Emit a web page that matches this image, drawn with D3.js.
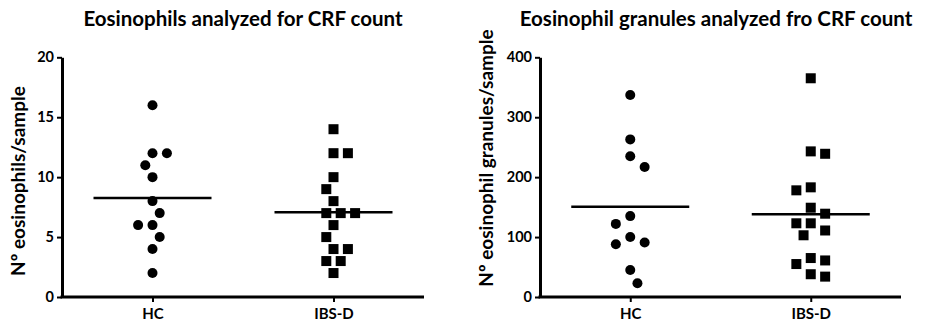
<!DOCTYPE html>
<html>
<head>
<meta charset="utf-8">
<script src="https://cdn.jsdelivr.net/npm/d3@7"></script>
<style>
    body { margin: 0; background: #fff; }
    text { font-family: Lato, "Open Sans", sans-serif; font-weight: 700; fill: #000; }
</style>
</head>
<body>
<div id="chart"></div>
<script>
// groups on the x axis
const groups = ["HC", "IBS-D"];

// eosinophils per sample
const eosHC = [16, 12, 12, 11, 10, 8, 7, 6, 6, 5, 4, 2];
const eosIBSD = [14, 12, 12, 10, 9, 8, 7, 7, 7, 6, 5, 4, 4, 3, 3, 2];

// eosinophil granules per sample
const granHC = [337, 263, 235, 217, 135, 122, 100, 91, 88, 45, 23];
const granIBSD = [365, 243, 239, 183, 178, 149, 139, 123, 123, 111, 103, 65, 61, 55, 38, 34];

const eosTicks = [0, 5, 10, 15, 20];
const granTicks = [0, 100, 200, 300, 400];

const titles = ["Eosinophils analyzed for CRF count", "Eosinophil granules analyzed fro CRF count"];
const yLabels = ["N\u00ba eosinophils/sample", "N\u00ba eosinophil granules/sample"];

const width = 925, height = 326;

const svg = d3.select("#chart").append("svg")
    .attr("width", width)
    .attr("height", height);

const panels = [
    {left: 62, right: 424, max: 20, ticks: eosTicks, series: [eosHC, eosIBSD], title: titles[0], ylab: yLabels[0], titleX: 243, labX: 25, labY: 181},
    {left: 540, right: 901, max: 400, ticks: granTicks, series: [granHC, granIBSD], title: titles[1], ylab: yLabels[1], titleX: 716, labX: 493, labY: 158}
];

const yTop = 57.3, yBottom = 297;
const symbol = 10;     // marker size
const step = 7.2;      // horizontal spread step
const minDist = 13.9;  // collision distance for the swarm

// simple greedy beeswarm, keeps the two sides balanced
function swarm(values, y) {
    let placed = [];
    let balance = 0;
    let sorted = values.slice().sort((a, b) => b - a);
    sorted.forEach(v => {
        let py = y(v);
        let ok = k => placed.every(p => Math.hypot(p.k * step - k * step, p.y - py) >= minDist);
        let k = 0;
        if (!ok(0)) {
            for (let n = 1; n < 10; n++) {
                let first = balance > 0 ? -n : n;
                if (ok(first)) { k = first; break; }
                if (ok(-first)) { k = -first; break; }
            }
        }
        balance += Math.sign(k);
        placed.push({v: v, y: py, k: k});
    });
    return placed;
}

panels.forEach(p => {
    let g = svg.append("g");

    let x = d3.scalePoint()
        .domain(groups)
        .range([p.left, p.right])
        .padding(0.5);

    let y = d3.scaleLinear()
        .domain([0, p.max])
        .range([yBottom, yTop]);

    // axes
    let yAxis = g.append("g")
        .attr("transform", "translate(" + p.left + ",0)")
        .call(d3.axisLeft(y).tickValues(p.ticks).tickSize(5).tickSizeOuter(0).tickPadding(3));

    let xAxis = g.append("g")
        .attr("transform", "translate(0," + yBottom + ")")
        .call(d3.axisBottom(x).tickSize(5).tickSizeOuter(0).tickPadding(6));

    [xAxis, yAxis].forEach(a => {
        a.select(".domain").attr("stroke", "#000").attr("stroke-width", 3);
        a.selectAll(".tick line").attr("stroke", "#000").attr("stroke-width", 2);
        a.selectAll(".tick text").style("font-size", "14.5px").attr("fill", "#000");
    });
    xAxis.select(".domain").attr("d", "M" + (p.left - 1.5) + ",0H" + p.right);
    xAxis.selectAll(".tick text").style("font-size", "15px");

    // points + mean lines
    p.series.forEach((vals, i) => {
        let cx = x(groups[i]);
        let pts = swarm(vals, y);

        if (i === 0) {
            g.selectAll(".dot" + i)
                .data(pts)
                .enter()
                .append("circle")
                .attr("cx", d => cx + d.k * step)
                .attr("cy", d => d.y)
                .attr("r", symbol / 2)
                .attr("fill", "#000");
        } else {
            g.selectAll(".sq" + i)
                .data(pts)
                .enter()
                .append("rect")
                .attr("x", d => cx + d.k * step - symbol / 2)
                .attr("y", d => d.y - symbol / 2)
                .attr("width", symbol)
                .attr("height", symbol)
                .attr("fill", "#000");
        }

        let m = d3.mean(vals);
        g.append("line")
            .attr("x1", cx - 59)
            .attr("x2", cx + 59)
            .attr("y1", y(m))
            .attr("y2", y(m))
            .attr("stroke", "#000")
            .attr("stroke-width", 2.5);
    });

    // title and y label
    g.append("text")
        .attr("x", p.titleX)
        .attr("y", 26)
        .attr("text-anchor", "middle")
        .style("font-size", "20.5px")
        .text(p.title);

    g.append("text")
        .attr("transform", "translate(" + p.labX + "," + p.labY + ")rotate(-90)")
        .attr("text-anchor", "middle")
        .style("font-size", "19px")
        .text(p.ylab);
});
</script>
</body>
</html>
